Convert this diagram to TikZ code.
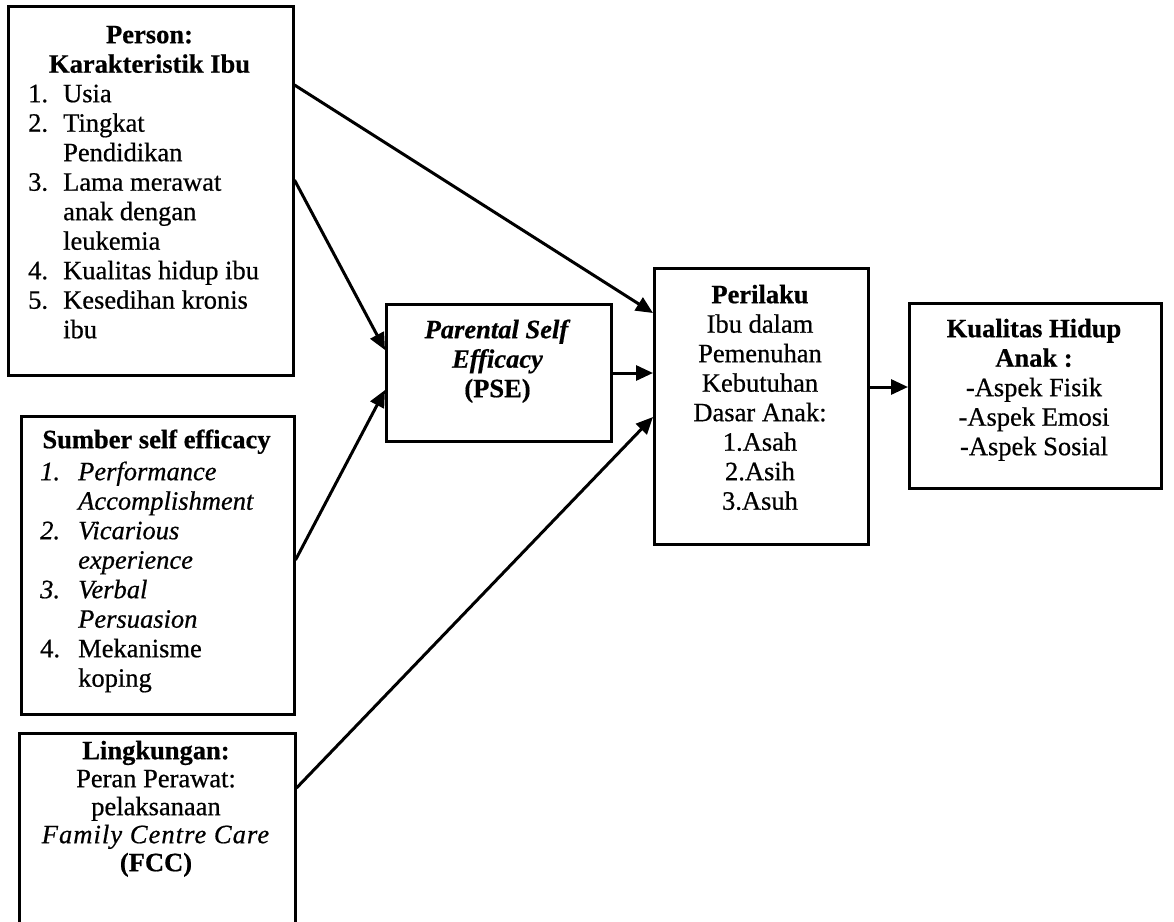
\documentclass[tikz,border=0pt]{standalone}
\usepackage{fontspec}
\setmainfont{Liberation Serif}[FakeBold=0.6]
\usetikzlibrary{arrows.meta,calc}

% numbered list helpers: label of fixed width, and continuation indent
\newcommand{\lab}[2][35pt]{\makebox[#1][l]{#2}}
\newcommand{\cont}[1][35pt]{\hspace*{#1}}

\begin{document}
\begin{tikzpicture}[x=1pt,y=1pt,
  box/.style={draw, line width=2.5pt, rectangle, inner sep=0pt, anchor=north west},
  txt/.style={inner sep=0pt, font=\fontsize{26.5}{29.5}\selectfont},
  link/.style={line width=3pt, -{Triangle[length=17pt,width=15pt]}}]

\useasboundingbox (0,0) rectangle (1174,-921);

% frames
\node[box, minimum width=285pt, minimum height=369pt] (person) at (7,-5) {};
\node[box, minimum width=273pt, minimum height=298pt] (sumber) at (20,-415) {};
\node[box, minimum width=276pt, minimum height=212pt] (lingkungan) at (18,-732) {};
\node[box, minimum width=225pt, minimum height=137pt] (pse) at (385,-303) {};
\node[box, minimum width=214pt, minimum height=276pt] (perilaku) at (653,-267) {};
\node[box, minimum width=252pt, minimum height=185pt] (kualitas) at (908,-302) {};

% texts
\node[txt, anchor=north, align=center] (personhead) at (149.5,-22.35)
  {\strut\textbf{Person:}\\\textbf{Karakteristik Ibu}};
\node[txt, anchor=north west, align=left] (personlist) at (28,-81.35)
  {\strut\lab{1.}Usia\\
   \lab{2.}Tingkat\\
   \cont Pendidikan\\
   \lab{3.}Lama merawat\\
   \cont anak dengan\\
   \cont leukemia\\
   \lab{4.}Kualitas hidup ibu\\
   \lab{5.}Kesedihan kronis\\
   \cont ibu};

\node[txt, anchor=north, align=center] (sumberhead) at (156.5,-427.35)
  {\strut\textbf{Sumber self efficacy}};
\node[txt, anchor=north west, align=left] (sumberlist) at (40,-459.35)
  {\strut\lab[38pt]{\textit{1.}}\textit{Performance}\\
   \cont[38pt]\textit{Accomplishment}\\
   \lab[38pt]{\textit{2.}}\textit{Vicarious}\\
   \cont[38pt]\textit{experience}\\
   \lab[38pt]{\textit{3.}}\textit{Verbal}\\
   \cont[38pt]\textit{Persuasion}\\
   \lab[38pt]{4.}Mekanisme\\
   \cont[38pt]koping};

\node[txt, font=\fontsize{26.5}{28}\selectfont, anchor=north, align=center] (lingkungantext) at (156,-739.4)
  {\strut\textbf{Lingkungan:}\\Peran Perawat:\\pelaksanaan\\
   {\addfontfeature{LetterSpace=4}\textit{Family Centre Care}}\\\textbf{(FCC)}};

\node[txt, anchor=north, align=center] (psetext) at (497.5,-317.35)
  {\strut\textbf{\textit{Parental Self}}\\\textbf{\textit{Efficacy}}\\\textbf{(PSE)}};

\node[txt, anchor=north, align=center] (perilakutext) at (760,-282.35)
  {\strut\textbf{Perilaku}\\Ibu dalam\\Pemenuhan\\Kebutuhan\\Dasar Anak:\\1.Asah\\2.Asih\\3.Asuh};

\node[txt, anchor=north, align=center] (kualitastext) at (1034,-316.35)
  {\strut\textbf{Kualitas Hidup}\\\textbf{Anak :}\\-Aspek Fisik\\-Aspek Emosi\\-Aspek Sosial};

% connectors
\draw[link] ($(person.north east)+(0,-80)$) -- ($(perilaku.north west)+(0,-46)$);
\draw[link] ($(person.north east)+(0,-175)$) -- ($(pse.north west)+(0,-47)$);
\draw[link] ($(sumber.north east)+(0,-145)$) -- ($(pse.north west)+(0,-87)$);
\draw[link] ($(pse.north east)+(0,-70)$) -- ($(perilaku.north west)+(0,-106)$);
\draw[link] ($(lingkungan.north east)+(0,-56)$) -- ($(perilaku.north west)+(0,-150)$);
\draw[link] ($(perilaku.north east)+(0,-120)$) -- ($(kualitas.north west)+(0,-85)$);
\end{tikzpicture}
\end{document}
